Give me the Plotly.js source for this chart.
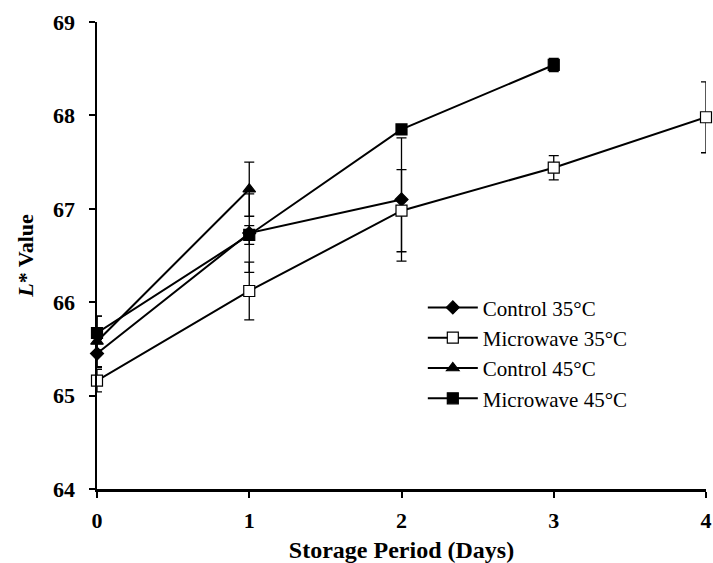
<!DOCTYPE html>
<html>
<head>
<meta charset="utf-8">
<script src="https://cdn.plot.ly/plotly-3.0.1.min.js"></script>
<style>html,body{margin:0;padding:0;background:#fff;}</style>
</head>
<body>
<div id="chart" style="width:713px;height:563px;"></div>
<script>
const seriesNames = ["Control 35°C", "Microwave 35°C", "Control 45°C", "Microwave 45°C"];
const daysC35 = [0, 1, 2];
const valC35 = [65.45, 66.74, 67.10];
const errC35 = [0.15, 0.42, 0.66];
const daysM35 = [0, 1, 2, 3, 4];
const valM35 = [65.16, 66.12, 66.98, 67.44, 67.98];
const errM35 = [0.12, 0.31, 0.44, 0.13, 0.38];
const daysC45 = [0, 1];
const valC45 = [65.58, 67.21];
const errC45 = [0.27, 0.29];
const daysM45 = [0, 1, 2, 3];
const valM45 = [65.67, 66.72, 67.85, 68.54];
const errM45 = [0.18, 0.10, 0.05, 0.07];
const xTicks = [0, 1, 2, 3, 4];
const yTicks = [64, 65, 66, 67, 68, 69];

const SERIF = "Liberation Serif";

function mk(name, x, y, e, symbol, fill, size) {
  return {
    type: 'scatter', mode: 'lines+markers', name: name, x: x, y: y,
    line: {color: '#000', width: 2},
    marker: {symbol: symbol, size: size, color: fill, line: {color: '#000', width: 1.2}},
    error_y: {type: 'data', array: e, visible: true, color: '#000', thickness: 1.3, width: 5},
    cliponaxis: false
  };
}
const traces = [
  mk(seriesNames[0], daysC35, valC35, errC35, 'diamond', '#000', 10),
  mk(seriesNames[1], daysM35, valM35, errM35, 'square', '#fff', 11),
  mk(seriesNames[2], daysC45, valC45, errC45, 'triangle-up', '#000', 11),
  mk(seriesNames[3], daysM45, valM45, errM45, 'square', '#000', 11)
];
const tickFont = {family: SERIF, size: 22, color: '#000', weight: 'bold'};
const layout = {
  width: 713, height: 563,
  margin: {l: 97, r: 7, t: 22, b: 74},
  paper_bgcolor: '#fff', plot_bgcolor: '#fff',
  font: {family: SERIF, color: '#000'},
  showlegend: true,
  legend: {x: 0.535, y: 0.432, xanchor: 'left', yanchor: 'top', bgcolor: 'rgba(0,0,0,0)',
    font: {family: SERIF, size: 21, color: '#000'},
    tracegroupgap: 0, itemwidth: 50},
  xaxis: {
    range: [0, 4], tickvals: xTicks, ticktext: xTicks.map(String),
    showgrid: false, zeroline: false, showline: true, linecolor: '#000', linewidth: 2.5,
    ticks: 'outside', ticklen: 6, tickwidth: 2, tickcolor: '#000',
    tickfont: tickFont, ticklabelstandoff: 4,
    title: {text: 'Storage Period (Days)', standoff: 10,
      font: {family: SERIF, size: 24, color: '#000', weight: 'bold'}}
  },
  yaxis: {
    range: [64, 69], tickvals: yTicks, ticktext: yTicks.map(String),
    showgrid: false, zeroline: false, showline: true, linecolor: '#000', linewidth: 2.5,
    ticks: 'outside', ticklen: 6, tickwidth: 2, tickcolor: '#000',
    tickfont: tickFont, ticklabelstandoff: 9,
    title: {text: '<i>L</i>* Value', standoff: 14,
      font: {family: SERIF, size: 22, color: '#000', weight: 'bold'}}
  }
};
Plotly.newPlot('chart', traces, layout, {displayModeBar: false, staticPlot: true});
</script>
</body>
</html>
